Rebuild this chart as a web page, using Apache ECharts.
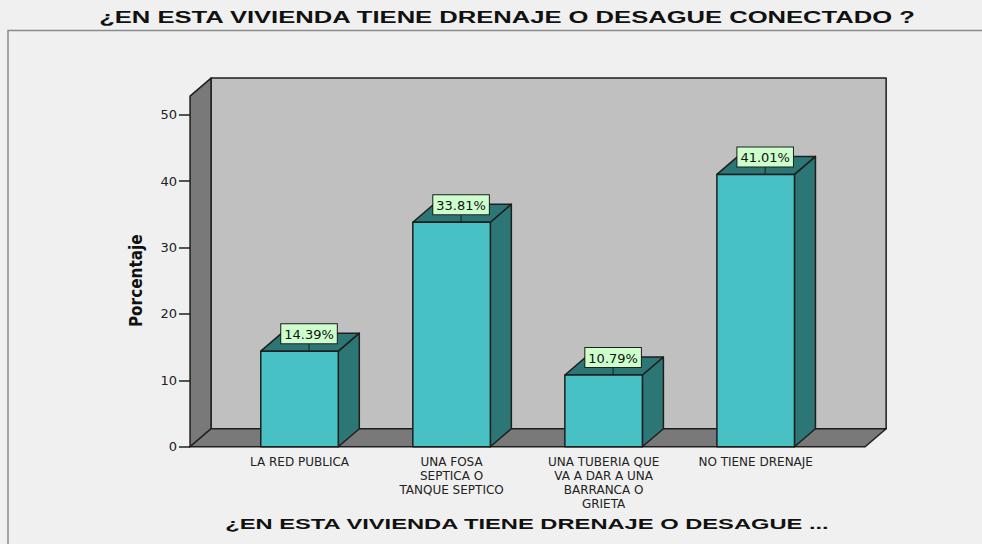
<!DOCTYPE html>
<html>
<head>
<meta charset="utf-8">
<script src="https://cdn.jsdelivr.net/npm/echarts@6.0.0/dist/echarts.min.js"></script>
<style>
  html, body { margin: 0; padding: 0; background: #f0f0f0; }
  #chart { width: 982px; height: 544px; }
</style>
</head>
<body>
<div id="chart"></div>
<script>
// datos del grafico
const titulo = '¿EN ESTA VIVIENDA TIENE DRENAJE O DESAGUE CONECTADO ?'
const nombreEjeX = '¿EN ESTA VIVIENDA TIENE DRENAJE O DESAGUE ...'
const nombreEjeY = 'Porcentaje'
const categorias = [
  'LA RED PUBLICA',
  'UNA FOSA\nSEPTICA O\nTANQUE SEPTICO',
  'UNA TUBERIA QUE\nVA A DAR A UNA\nBARRANCA O\nGRIETA',
  'NO TIENE DRENAJE'
]
const porcentajes = [14.39, 33.81, 10.79, 41.01]
const yTicks = [0, 10, 20, 30, 40, 50]

// estilo 3D
const DX = 21, DY = 18          // profundidad
const TOPE_PARED = 52.8         // altura de la pared del fondo (en unidades del eje)
const MARGEN = 0.22             // parte de banda que sobra a cada lado del piso
const ANCHO_BARRA = 0.51
const LINEA = '#1e1e1e'

const chart = echarts.init(document.getElementById('chart'), null, { renderer: 'svg' })

function dibujarCaja(params, api) {
  const band = api.size([1, 0])[0]
  const p0 = api.coord([0, 0])
  const p1 = api.coord([categorias.length - 1, 0])
  const left = p0[0] - band / 2 - band * MARGEN
  const right = p1[0] + band / 2 + band * MARGEN
  const y0 = p0[1]
  const yTop = api.coord([0, TOPE_PARED])[1]
  const borde = { stroke: LINEA, lineWidth: 1.5, lineJoin: 'round' }
  return {
    type: 'group',
    children: [
      { type: 'polygon', shape: { points: [[left + DX, yTop - DY], [right + DX, yTop - DY], [right + DX, y0 - DY], [left + DX, y0 - DY]] },
        style: Object.assign({ fill: '#c0c0c0' }, borde) },
      { type: 'polygon', shape: { points: [[left, y0], [left, yTop], [left + DX, yTop - DY], [left + DX, y0 - DY]] },
        style: Object.assign({ fill: '#797979' }, borde) },
      { type: 'polygon', shape: { points: [[left, y0], [right, y0], [right + DX, y0 - DY], [left + DX, y0 - DY]] },
        style: Object.assign({ fill: '#797979' }, borde) }
    ]
  }
}

function dibujarBarra(params, api) {
  const i = api.value(0)
  const v = api.value(1)
  const band = api.size([1, 0])[0]
  const w = band * ANCHO_BARRA
  const top = api.coord([i, v])
  const base = api.coord([i, 0])
  const x1 = top[0] - w / 2, x2 = top[0] + w / 2
  const yt = top[1], yb = base[1]
  const borde = { stroke: LINEA, lineWidth: 1.5, lineJoin: 'round' }
  const lx = top[0] + DX / 2 - 1
  return {
    type: 'group',
    children: [
      { type: 'polygon', shape: { points: [[x2, yt], [x2 + DX, yt - DY], [x2 + DX, yb - DY], [x2, yb]] },
        style: Object.assign({ fill: '#2c7676' }, borde) },
      { type: 'polygon', shape: { points: [[x1, yt], [x1 + DX, yt - DY], [x2 + DX, yt - DY], [x2, yt]] },
        style: Object.assign({ fill: '#2c7676' }, borde) },
      { type: 'rect', shape: { x: x1, y: yt, width: w, height: yb - yt },
        style: Object.assign({ fill: '#47c1c4' }, borde) },
      { type: 'line', shape: { x1: lx, y1: yt - 8, x2: lx, y2: yt }, style: { stroke: LINEA, lineWidth: 1 } },
      { type: 'text', x: lx, y: yt - 8,
        style: {
          text: v.toFixed(2) + '%', font: '13px "DejaVu Sans"', fill: '#111',
          align: 'center', verticalAlign: 'bottom',
          backgroundColor: '#ccffcc', borderColor: LINEA, borderWidth: 1,
          padding: [3, 3, 2, 3], lineHeight: 14
        } }
    ]
  }
}

const option = {
  backgroundColor: '#f0f0f0',
  animation: false,
  grid: { left: 223.5, right: 150.3, top: 114.7, bottom: 97.3 },
  graphic: [
    { type: 'rect', z: -10, shape: { x: 8, y: 30.5, width: 1000, height: 600 },
      style: { fill: 'none', stroke: '#8a8a8a', lineWidth: 1.5 } },
    { type: 'text', x: 507, y: 18, scaleX: 1.6,
      style: { text: titulo, font: 'bold 16px "Liberation Sans"', fill: '#111', align: 'center', verticalAlign: 'middle' } },
    { type: 'text', x: 527, y: 524, scaleX: 1.58,
      style: { text: nombreEjeX, font: 'bold 15px "Liberation Sans"', fill: '#111', align: 'center', verticalAlign: 'middle' } }
  ],
  xAxis: {
    type: 'category',
    data: categorias,
    axisLine: { show: false },
    axisTick: { alignWithLabel: true, length: 6, lineStyle: { color: '#222', width: 1.5 } },
    axisLabel: { interval: 0, margin: 8, color: '#222', fontFamily: 'DejaVu Sans', fontSize: 12, lineHeight: 14 }
  },
  yAxis: {
    type: 'value',
    min: 0, max: 50, interval: 10,
    offset: 33.5,
    name: nombreEjeY,
    nameLocation: 'middle',
    nameGap: 46,
    nameTextStyle: { fontFamily: '"Liberation Sans Narrow", "DejaVu Sans Condensed", "Liberation Sans", sans-serif',
      fontWeight: 'bold', fontSize: 17, color: '#111' },
    axisLine: { show: false },
    axisTick: { show: true, length: 11, lineStyle: { color: '#222', width: 1.5 } },
    axisLabel: { margin: 13, color: '#222', fontFamily: 'DejaVu Sans', fontSize: 13,
      formatter: v => yTicks.indexOf(v) >= 0 ? String(v) : '' },
    splitLine: { show: false }
  },
  series: [
    { type: 'custom', z: 1, silent: true, renderItem: dibujarCaja, data: [[0, 0]] },
    { type: 'custom', z: 2, silent: true, renderItem: dibujarBarra,
      data: porcentajes.map((v, i) => [i, v]) }
  ]
}

chart.setOption(option)
</script>
</body>
</html>
